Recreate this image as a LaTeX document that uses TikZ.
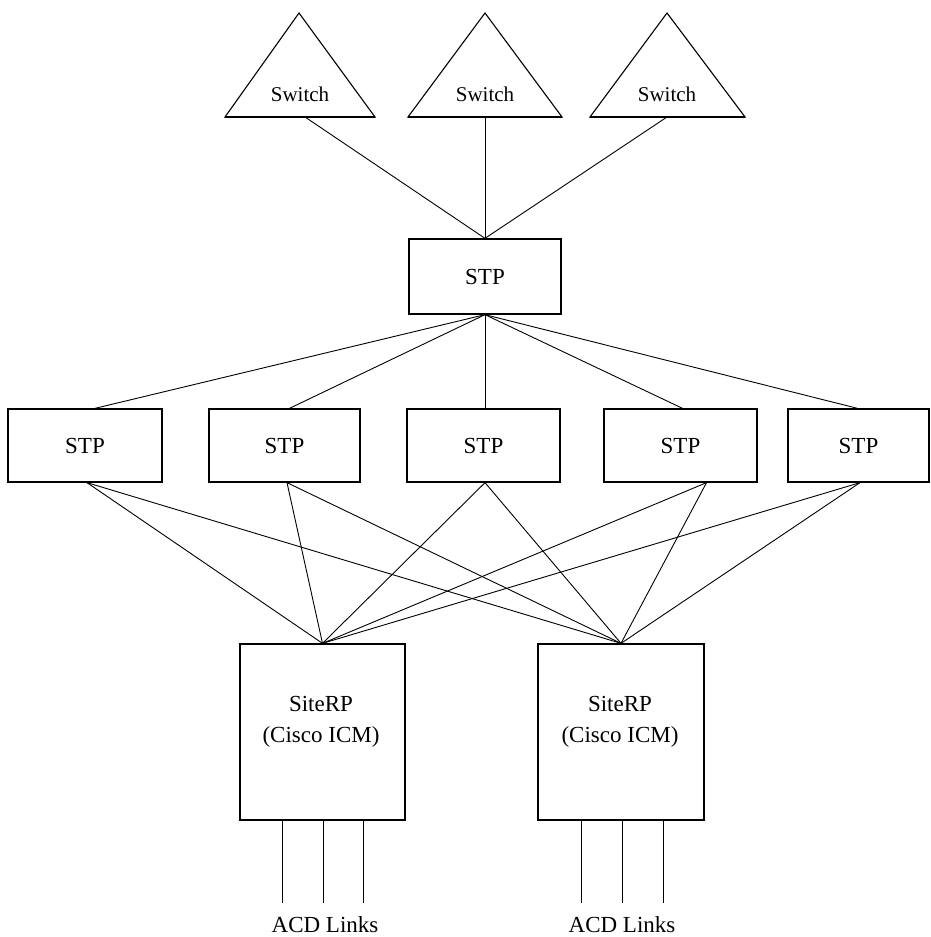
\documentclass[tikz,border=0pt]{standalone}
\usepackage{fontspec}
\setmainfont{Liberation Serif}
\begin{document}
\begin{tikzpicture}[x=1pt,y=-1pt,
  box/.style={draw, line width=1.3pt, inner sep=0pt, font=\fontsize{23}{28}\selectfont},
  link/.style={line width=0.9pt},
  tri/.style={draw, line width=1.1pt},
  lbl/.style={font=\fontsize{23}{31}\selectfont, inner sep=0pt},
  swl/.style={font=\fontsize{21}{25}\selectfont, inner sep=0pt}]
\useasboundingbox (0,0) rectangle (931,937);
% switches (triangles)
\coordinate (t1a) at (299,13); \coordinate (t1l) at (225,117); \coordinate (t1r) at (375,117);
\coordinate (t2a) at (485,13); \coordinate (t2l) at (408,117); \coordinate (t2r) at (562,117);
\coordinate (t3a) at (667,13); \coordinate (t3l) at (590,117); \coordinate (t3r) at (745,117);
\draw[tri] (t1a) -- (t1l) -- (t1r) -- cycle;
\draw[tri] (t2a) -- (t2l) -- (t2r) -- cycle;
\draw[tri] (t3a) -- (t3l) -- (t3r) -- cycle;
\draw[line width=2pt] (t1l) -- (t1r) (t2l) -- (t2r) (t3l) -- (t3r);
\node[swl] (s1) at (300,94) {Switch};
\node[swl] (s2) at (485,94) {Switch};
\node[swl] (s3) at (667,94) {Switch};
\coordinate (s1b) at (305,117);
\coordinate (s2b) at (485,117);
\coordinate (s3b) at (667,117);
% top STP
\node[box, minimum width=152pt, minimum height=75pt] (top) at (485,276.5) {STP};
% middle STPs
\node[box, minimum width=154pt, minimum height=73pt] (m1) at (85,445.5) {STP};
\node[box, minimum width=151pt, minimum height=73pt] (m2) at (284.5,445.5) {STP};
\node[box, minimum width=153pt, minimum height=73pt] (m3) at (483.5,445.5) {STP};
\node[box, minimum width=153pt, minimum height=73pt] (m4) at (680.5,445.5) {STP};
\node[box, minimum width=141pt, minimum height=73pt] (m5) at (858.5,445.5) {STP};
% SiteRP boxes
\node[box, minimum width=165pt, minimum height=176pt] (r1) at (322.5,732) {};
\node[box, minimum width=166pt, minimum height=176pt] (r2) at (621,732) {};
\node[lbl, align=center] (r1t) at (321,722) {SiteRP\\(Cisco ICM)};
\node[lbl, align=center] (r2t) at (620,722) {SiteRP\\(Cisco ICM)};
% switch links
\draw[link] (s1b) -- (top.north);
\draw[link] (s2b) -- (top.north);
\draw[link] (s3b) -- (top.north);
% top STP to middle STPs
\draw[link] (top.south) -- ([xshift=10pt]m1.north);
\draw[link] (top.south) -- ([xshift=5pt]m2.north);
\draw[link] (top.south) -- ([xshift=1.5pt]m3.north);
\draw[link] (top.south) -- ([xshift=2pt]m4.north);
\draw[link] (top.south) -- ([xshift=-1pt]m5.north);
% middle STPs to SiteRPs
\foreach \m/\dx in {m1/2, m2/2.5, m3/1.5, m4/26, m5/1.5} {
  \draw[link] ([xshift=\dx pt]\m.south) -- (r1.north);
  \draw[link] ([xshift=\dx pt]\m.south) -- (r2.north);
}
% ACD links
\foreach \dx/\n in {-40/a, 1/b, 41/c} {
  \coordinate (l1\n) at ([xshift=\dx pt]r1.south);
  \coordinate (e1\n) at ([xshift=\dx pt]r1.south |- 0,903);
  \draw[link] (l1\n) -- (e1\n);
}
\foreach \dx/\n in {-40/a, 1/b, 42/c} {
  \coordinate (l2\n) at ([xshift=\dx pt]r2.south);
  \coordinate (e2\n) at ([xshift=\dx pt]r2.south |- 0,903);
  \draw[link] (l2\n) -- (e2\n);
}
\node[lbl] (acd1) at (325,925) {ACD Links};
\node[lbl] (acd2) at (622,925) {ACD Links};
\end{tikzpicture}
\end{document}
